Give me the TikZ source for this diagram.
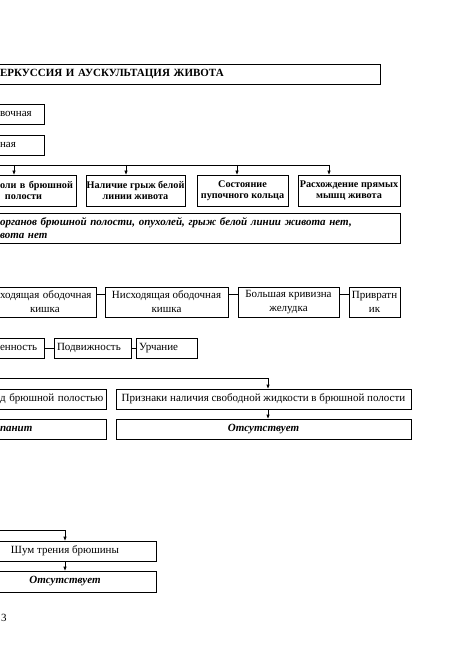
\documentclass[tikz,border=0pt]{standalone}
\usepackage{fontspec}
\setmainfont{Liberation Serif}
\usetikzlibrary{arrows.meta}
\begin{document}
\begin{tikzpicture}[x=1pt,y=-1pt,
  box/.style={draw=black, line width=0.8pt, inner sep=0pt, rectangle,
    font=\fontsize{11}{14}\selectfont},
  bf/.style={font=\fontsize{10.2}{11}\selectfont\bfseries},
  bi/.style={font=\fontsize{11}{13}\selectfont\bfseries\itshape},
  conn/.style={draw=black, line width=0.8pt},
  arr/.style={conn, -{Triangle[length=4pt,width=3pt]}}
]
\useasboundingbox (0,0) rectangle (475,671);

% title and first boxes
\node[box, font=\fontsize{11}{13}\selectfont\bfseries, minimum width=382pt, minimum height=20pt, text width=378pt, align=left]
  (title) at (189,74) {ЕРКУССИЯ И АУСКУЛЬТАЦИЯ ЖИВОТА};
\node[box, minimum width=46pt, minimum height=20pt, text width=42pt, align=left]
  (t1) at (21,114) {вочная};
\node[box, minimum width=46pt, minimum height=20pt, text width=42pt, align=left]
  (t2) at (21,145) {ная};

% row 2
\coordinate (b1) at (-5,165);
\coordinate (a1) at (14,165);
\coordinate (a2) at (126,165);
\coordinate (a3) at (237,165);
\coordinate (a4) at (329,165);
\node[box, bf, minimum width=78pt, minimum height=31pt, text width=74pt, align=left]
  (r1) at (37,190.5) {оли в брюшной\\\hspace*{5pt}полости};
\node[box, bf, minimum width=99pt, minimum height=31pt, align=center]
  (r2) at (135.5,190.5) {Наличие грыж белой\\линии живота};
\node[box, bf, minimum width=91pt, minimum height=31pt, align=center]
  (r3) at (242.5,190.5) {Состояние\\пупочного кольца};
\node[box, bf, minimum width=102pt, minimum height=31pt, align=center]
  (r4) at (349,190.5) {Расхождение прямых\\мышц живота};
\draw[conn] (b1) -- (a4);
\draw[arr] (a1) -- (a1 |- r1.north);
\draw[arr] (a2) -- (a2 |- r2.north);
\draw[arr] (a3) -- (a3 |- r3.north);
\draw[arr] (a4) -- (a4 |- r4.north);
\node[box, bi, minimum width=402pt, minimum height=30pt, text width=398pt, align=left]
  (w) at (199,228) {органов брюшной полости, опухолей, грыж белой линии живота нет,\\вота нет};

% row 3
\node[box, minimum width=98pt, minimum height=30pt, text width=94pt, align=left]
  (p1) at (47,302) {ходящая ободочная\\\hspace*{30pt}кишка};
\node[box, minimum width=123pt, minimum height=30pt, align=center]
  (p2) at (166.5,302) {Нисходящая ободочная\\кишка};
\node[box, minimum width=101pt, minimum height=30pt, align=center]
  (p3) at (288.5,302) {Большая кривизна\\желудка};
\node[box, minimum width=51pt, minimum height=30pt, align=center]
  (p4) at (374.5,302) {Привратн\\ик};
\draw[conn] ([yshift=8pt]p1.east) -- ([yshift=8pt]p2.west);
\draw[conn] ([yshift=8pt]p2.east) -- ([yshift=8pt]p3.west);
\draw[conn] ([yshift=8pt]p3.east) -- ([yshift=8pt]p4.west);

% row 4
\node[box, minimum width=46pt, minimum height=20pt, text width=42pt, align=left]
  (q1) at (21,348) {енность};
\node[box, minimum width=77pt, minimum height=20pt, text width=71pt, align=left]
  (q2) at (92.5,348) {Подвижность};
\node[box, minimum width=61pt, minimum height=20pt, text width=55pt, align=left]
  (q3) at (166.5,348) {Урчание};
\draw[conn] (q1.east) -- (q2.west);
\draw[conn] (q2.east) -- (q3.west);

% row 5
\coordinate (c5) at (-5,378);
\coordinate (a5) at (268,378);
\node[box, minimum width=108pt, minimum height=20pt, text width=104pt, align=left]
  (s1) at (52,399) {д брюшной полостью};
\node[box, minimum width=295pt, minimum height=20pt, align=center]
  (s2) at (263.5,399) {Признаки наличия свободной жидкости в брюшной полости};
\node[box, bi, minimum width=108pt, minimum height=20pt, text width=104pt, align=left]
  (s3) at (52,429) {панит};
\node[box, bi, minimum width=295pt, minimum height=20pt, align=center]
  (s4) at (263.5,429) {Отсутствует};
\draw[conn] (c5) -- (a5);
\draw[arr] (a5) -- (a5 |- s2.north);
\draw[arr] (a5 |- s2.south) -- (a5 |- s4.north);

% bottom
\coordinate (c6) at (-5,530);
\coordinate (a6) at (65,530);
\node[box, minimum width=182pt, minimum height=20pt, align=center]
  (u1) at (65,551) {Шум трения брюшины};
\node[box, bi, minimum width=182pt, minimum height=21pt, align=center]
  (u2) at (65,581.5) {Отсутствует};
\draw[conn] (c6) -- (a6);
\draw[arr] (a6) -- (u1.north);
\draw[arr] (u1.south) -- (u2.north);

\node[font=\fontsize{11}{13}\selectfont, inner sep=0pt, anchor=west] (pg) at (1,618) {3};
\end{tikzpicture}
\end{document}
